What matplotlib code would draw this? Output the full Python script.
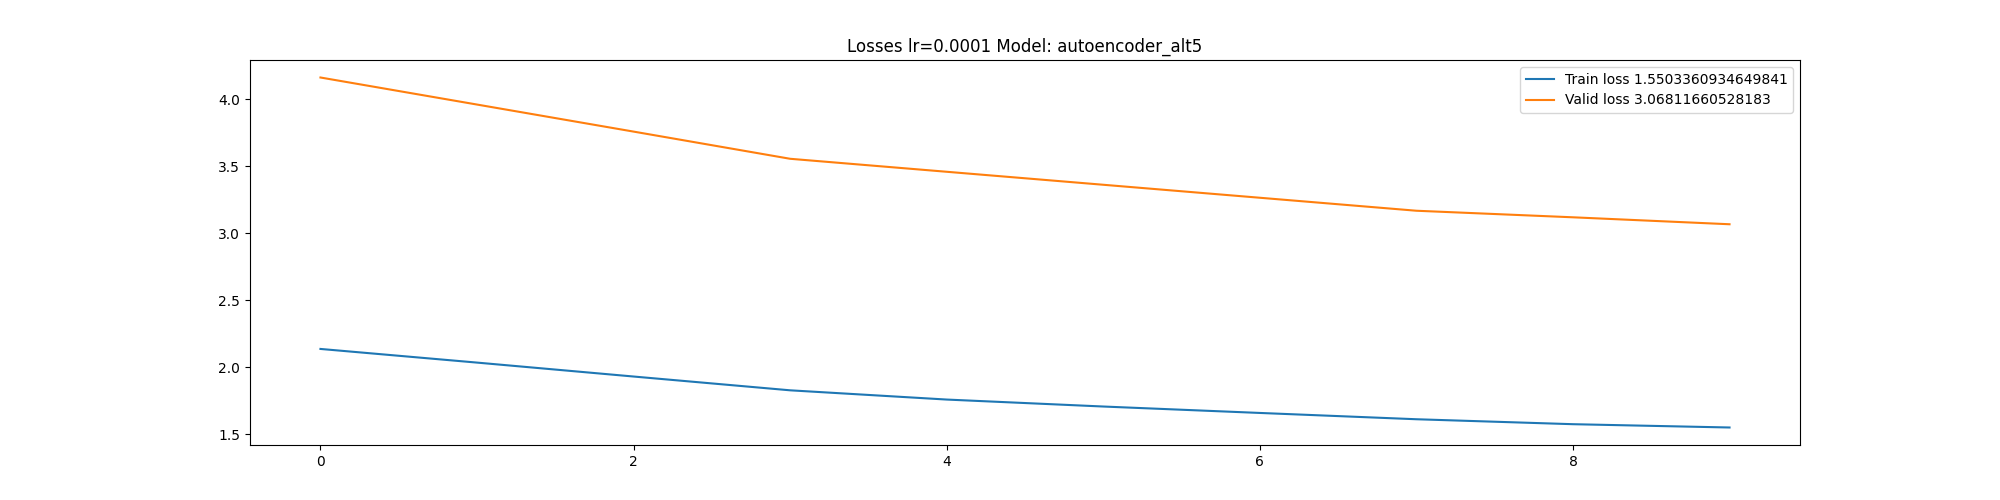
import matplotlib
matplotlib.use('Agg')
import matplotlib.pyplot as plt

epochs = list(range(10))
train_loss = [2.137, 2.035, 1.931, 1.828, 1.759, 1.707, 1.659, 1.612, 1.575, 1.5503360934649841]
valid_loss = [4.164, 3.962, 3.760, 3.557, 3.460, 3.363, 3.266, 3.169, 3.120, 3.06811660528183]
lr = 0.0001
model_name = 'autoencoder_alt5'

fig, ax = plt.subplots(figsize=(20, 5), dpi=100)
ax.plot(epochs, train_loss, label='Train loss ' + str(train_loss[-1]))
ax.plot(epochs, valid_loss, label='Valid loss ' + str(valid_loss[-1]))
ax.set_title('Losses lr=' + str(lr) + ' Model: ' + model_name)
ax.legend(loc='upper right')
fig.savefig('out.png')
